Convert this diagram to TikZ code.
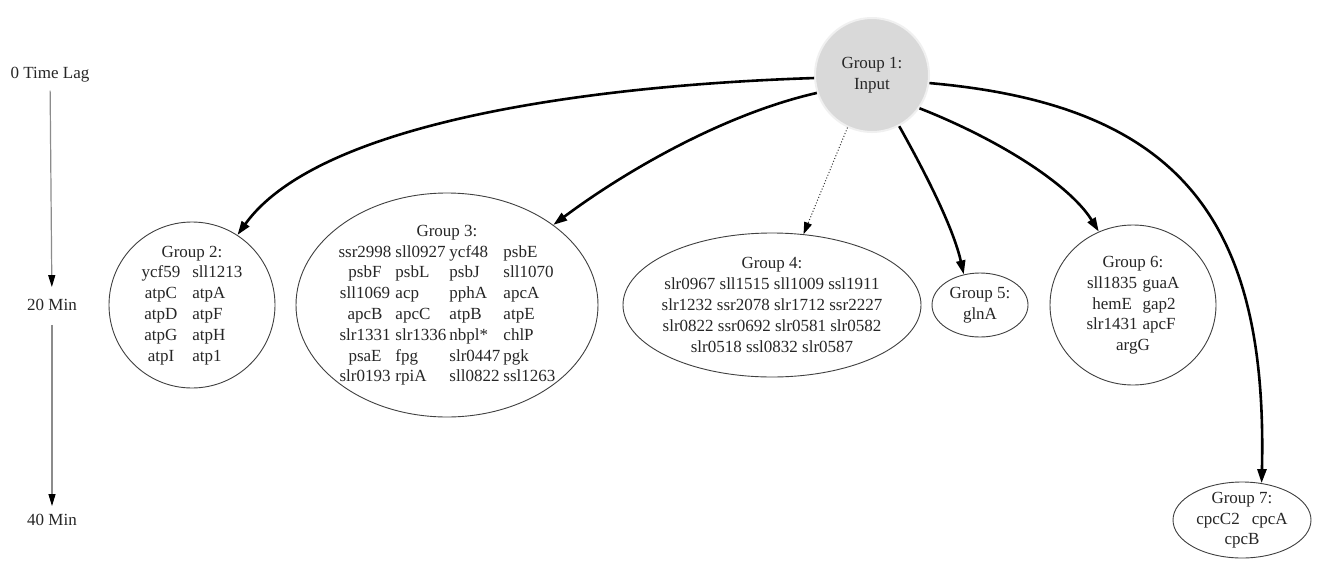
\documentclass[tikz,border=0pt]{standalone}
\usepackage{fontspec}
\setmainfont{Liberation Serif}
\usetikzlibrary{shapes.geometric,arrows.meta}
\begin{document}
\begin{tikzpicture}[x=1pt,y=-1pt,
  every node/.style={font=\fontsize{17}{20.8}\selectfont, text=black!85},
  grp/.style={draw=black!75, ellipse, inner sep=0pt, line width=0.9pt},
  lbl/.style={inner sep=0pt, align=center},
  tlabel/.style={inner sep=0pt, anchor=center},
  timearrow/.style={draw=black!45, line width=1.2pt, -{Triangle[length=12pt,width=7pt,color=black]}},
  edge/.style={draw=black, line width=2.6pt, -{Triangle[length=14pt,width=9pt]}},
  dotedge/.style={draw=black!80, line width=1pt, dotted, -{Triangle[length=12pt,width=8pt,color=black]}}
]
\useasboundingbox (0,0) rectangle (1317,560);
\fill[white] (0,0) rectangle (1317,560);

% time axis
\node[tlabel] (t0) at (50,75) {0 Time Lag};
\node[tlabel] (t20) at (52,305) {20 Min};
\node[tlabel] (t40) at (52,520) {40 Min};
\draw[timearrow, shorten <=8pt, shorten >=12pt] (t0) -- (t20);
\draw[timearrow, shorten <=14pt, shorten >=8pt] (t20) -- (t40);

% group 1
\node[circle, fill=black!15, draw=black!6, line width=2pt, minimum size=114pt, inner sep=0pt, align=center]
  (g1) at (872,75) {Group 1:\\Input};

% group 2
\node[grp, minimum width=166pt, minimum height=166pt,
  label={[lbl]center:{\begin{tabular}{@{}c@{\hspace{12pt}}l@{}}
   \multicolumn{2}{c}{Group 2:}\\
   ycf59 & sll1213\\ atpC & atpA\\ atpD & atpF\\ atpG & atpH\\ atpI & atp1
  \end{tabular}}}] (g2) at (192,305) {};

% group 3
\node[grp, minimum width=302pt, minimum height=224pt,
  label={[lbl]center:{\begin{tabular}{@{}c@{\hspace{4pt}}l@{\hspace{3pt}}l@{\hspace{3pt}}l@{}}
   \multicolumn{4}{c}{Group 3:}\\
   ssr2998 & sll0927 & ycf48 & psbE\\
   psbF & psbL & psbJ & sll1070\\
   sll1069 & acp & pphA & apcA\\
   apcB & apcC & atpB & atpE\\
   slr1331 & slr1336 & nbpl* & chlP\\
   psaE & fpg & slr0447 & pgk\\
   slr0193 & rpiA & sll0822 & ssl1263
  \end{tabular}}}] (g3) at (447,305) {};

% group 4
\node[grp, minimum width=298pt, minimum height=144pt,
  label={[lbl]center:{Group 4:\\ slr0967 sll1515 sll1009 ssl1911\\ slr1232 ssr2078 slr1712 ssr2227\\ slr0822 ssr0692 slr0581 slr0582\\ slr0518 ssl0832 slr0587}}] (g4) at (772,305) {};

% group 5
\node[grp, minimum width=96pt, minimum height=64pt,
  label={[lbl]center:{Group 5:\\glnA}}] (g5) at (980,305) {};

% group 6
\node[grp, minimum width=166pt, minimum height=160pt,
  label={[lbl]center:{\begin{tabular}{@{}c@{\hspace{5pt}}l@{}}
   \multicolumn{2}{c}{Group 6:}\\
   sll1835 & guaA\\ hemE & gap2\\ slr1431 & apcF\\ \multicolumn{2}{c}{argG}
  \end{tabular}}}] (g6) at (1133,305) {};

% group 7
\node[grp, minimum width=138pt, minimum height=76pt,
  label={[lbl]center:{\begin{tabular}{@{}c@{\hspace{12pt}}c@{}}
   \multicolumn{2}{c}{Group 7:}\\
   cpcC2 & cpcA\\ \multicolumn{2}{c}{cpcB}
  \end{tabular}}}] (g7) at (1242,520) {};

% edges
\draw[edge] (g1.183) .. controls (600,85) and (320,120) .. (g2.57);
\draw[edge] (g1.198) .. controls (720,115) and (620,175) .. (g3.37);
\draw[dotedge] (g1.245) -- (g4.66);
\draw[edge] (g1.298) .. controls (935,190) and (955,235) .. (g5.118);
\draw[edge] (g1.325) .. controls (1000,140) and (1070,185) .. (g6.115);
\draw[edge] (g1.352) .. controls (1180,105) and (1268,220) .. (g7.62);
\end{tikzpicture}
\end{document}
